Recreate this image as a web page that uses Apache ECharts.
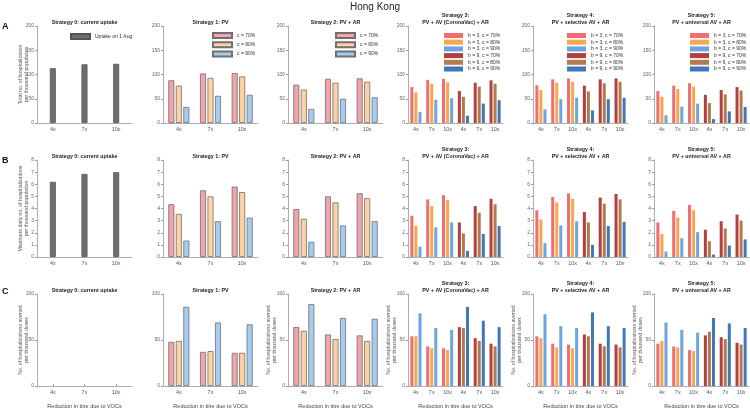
<!DOCTYPE html>
<html>
<head>
<meta charset="utf-8">
<script src="https://cdn.jsdelivr.net/npm/echarts@6/dist/echarts.min.js"></script>
<style>html,body{margin:0;padding:0;background:#fff}#chart{width:750px;height:410px}</style>
</head>
<body>
<div id="chart"></div>
<script>
// ---------- DATA ----------
const cats3 = ['4x', '7x', '10x'];
const cats6 = ['4x', '7x', '10x', '4x', '7x', '10x'];
const strategyTitles = ['Strategy 0: current uptake', 'Strategy 1: PV', 'Strategy 2: PV + AR',
  'Strategy 3:\nPV + AV (CoronaVac) + AR', 'Strategy 4:\nPV + selective AV + AR', 'Strategy 5:\nPV + universal AV + AR'];
const rowLetters = ['A', 'B', 'C'];
const rowYNames = ['Total no. of hospitalization\nper thousand population',
  'Maximum daily no. of hospitalizations\nper thousand population',
  'No. of hospitalizations averted\nper thousand doses'];
const rowYMax = [200, 8, 100];
const rowYInterval = [50, 1, 50];
const xName = 'Reduction in titre due to VOCs';
const s0Name = 'Uptake on 1 Aug';
const cNames = ['c = 70%', 'c = 80%', 'c = 90%'];
const bcNames = ['b = 3, c = 70%', 'b = 3, c = 80%', 'b = 3, c = 90%', 'b = 9, c = 70%', 'b = 9, c = 80%', 'b = 9, c = 90%'];

// Row A: total hospitalizations per thousand population
const A_S0 = [113, 121, 122];
const A_S1_c70 = [88, 102, 103];
const A_S1_c80 = [77, 93, 96];
const A_S1_c90 = [33, 56, 58];
const A_S2_c70 = [79, 91, 92];
const A_S2_c80 = [69, 83, 85];
const A_S2_c90 = [29, 50, 53];
// strategies 3-5: first three = b=3 (4x,7x,10x), last three = b=9
const A_S3_c70 = [74, 89, 91, 66, 83, 88];
const A_S3_c80 = [63, 81, 84, 54, 75, 81];
const A_S3_c90 = [23, 48, 51, 15, 40, 47];
const A_S4_c70 = [78, 90, 92, 77, 90, 92];
const A_S4_c80 = [68, 83, 85, 65, 82, 85];
const A_S4_c90 = [28, 49, 52, 26, 49, 52];
const A_S5_c70 = [66, 77, 82, 58, 68, 74];
const A_S5_c80 = [54, 70, 75, 41, 59, 67];
const A_S5_c90 = [16, 34, 40, 8, 24, 33];

// Row B: maximum daily hospitalizations per thousand population
const B_S0 = [6.2, 6.85, 7.0];
const B_S1_c70 = [4.35, 5.5, 5.8];
const B_S1_c80 = [3.55, 5.0, 5.35];
const B_S1_c90 = [1.35, 2.95, 3.25];
const B_S2_c70 = [3.95, 5.0, 5.25];
const B_S2_c80 = [3.15, 4.5, 4.85];
const B_S2_c90 = [1.25, 2.6, 2.95];
const B_S3_c70 = [3.4, 4.75, 5.1, 2.85, 4.2, 4.8];
const B_S3_c80 = [2.55, 4.2, 4.7, 1.95, 3.65, 4.35];
const B_S3_c90 = [0.85, 2.45, 2.85, 0.5, 1.9, 2.55];
const B_S4_c70 = [3.85, 4.95, 5.25, 3.7, 4.9, 5.2];
const B_S4_c80 = [3.1, 4.5, 4.8, 2.85, 4.4, 4.75];
const B_S4_c90 = [1.15, 2.6, 2.95, 1.0, 2.55, 2.9];
const B_S5_c70 = [2.85, 3.8, 4.3, 2.25, 2.95, 3.5];
const B_S5_c80 = [1.9, 3.25, 3.85, 1.3, 2.35, 3.0];
const B_S5_c90 = [0.45, 1.55, 2.05, 0.2, 0.95, 1.45];

// Row C: hospitalizations averted per thousand doses
const C_S0 = [null, null, null];
const C_S1_c70 = [48, 37, 36];
const C_S1_c80 = [49, 38, 36];
const C_S1_c90 = [86, 69, 67];
const C_S2_c70 = [64, 56, 55];
const C_S2_c80 = [60, 51, 49];
const C_S2_c90 = [89, 74, 73];
const C_S3_c70 = [54, 43, 41, 64, 52, 46];
const C_S3_c80 = [54, 41, 39, 63, 49, 43];
const C_S3_c90 = [79, 63, 61, 86, 71, 64];
const C_S4_c70 = [54, 46, 45, 56, 46, 45];
const C_S4_c80 = [52, 42, 41, 54, 43, 42];
const C_S4_c90 = [78, 65, 63, 80, 65, 63];
const C_S5_c70 = [46, 43, 39, 55, 53, 47];
const C_S5_c80 = [49, 42, 38, 59, 51, 45];
const C_S5_c90 = [69, 61, 58, 74, 68, 63];

const rows = [
  [A_S0, [A_S1_c70, A_S1_c80, A_S1_c90], [A_S2_c70, A_S2_c80, A_S2_c90], [A_S3_c70, A_S3_c80, A_S3_c90], [A_S4_c70, A_S4_c80, A_S4_c90], [A_S5_c70, A_S5_c80, A_S5_c90]],
  [B_S0, [B_S1_c70, B_S1_c80, B_S1_c90], [B_S2_c70, B_S2_c80, B_S2_c90], [B_S3_c70, B_S3_c80, B_S3_c90], [B_S4_c70, B_S4_c80, B_S4_c90], [B_S5_c70, B_S5_c80, B_S5_c90]],
  [C_S0, [C_S1_c70, C_S1_c80, C_S1_c90], [C_S2_c70, C_S2_c80, C_S2_c90], [C_S3_c70, C_S3_c80, C_S3_c90], [C_S4_c70, C_S4_c80, C_S4_c90], [C_S5_c70, C_S5_c80, C_S5_c90]]
];

// ---------- STYLE / LAYOUT ----------
const FONT = 'Liberation Sans, Arial, sans-serif';
const lefts = [37, 163, 288, 408, 533, 654];
const W = 95;
const tops = [26, 160, 294];
const H = [97, 97, 96];
const lightCols = ['#f4a3a8', '#fdd3a5', '#a6cdf0'];
const b3Cols = ['#f26d6d', '#fca64c', '#6aa6e4'];
const b9Cols = ['#b43f3f', '#b47a4b', '#3f77bb'];

const grid = [], xAxis = [], yAxis = [], series = [], title = [], legend = [];

title.push({ text: 'Hong Kong', left: 375, top: 2, textAlign: 'center', padding: 0,
  textStyle: { fontFamily: FONT, fontSize: 10, fontWeight: 'normal', color: '#222' } });

const legendText = { fontFamily: FONT, fontSize: 5, color: '#333' };

for (let r = 0; r < 3; r++) {
  title.push({ text: rowLetters[r], left: 2, top: [22, 156, 287][r], padding: 0,
    textStyle: { fontFamily: FONT, fontSize: 9, fontWeight: 'bold', color: '#111' } });
  for (let s = 0; s < 6; s++) {
    const gi = r * 6 + s;
    grid.push({ left: lefts[s], top: tops[r], width: W, height: H[r], containLabel: false });
    const nLines = strategyTitles[s].split('\n').length;
    title.push({ text: strategyTitles[s], left: lefts[s] + W / 2, top: tops[r] - 6.5 - (nLines - 1) * 7,
      textAlign: 'center', padding: 0,
      textStyle: { fontFamily: FONT, fontSize: 5.3, fontWeight: 'bold', color: '#222', lineHeight: 7 } });
    xAxis.push({ type: 'category', gridIndex: gi, data: s < 3 ? cats3 : cats6,
      axisLine: { lineStyle: { color: '#999', width: 0.8 } },
      axisTick: { show: true, alignWithLabel: true, inside: true, length: 2, lineStyle: { color: '#999' } },
      axisLabel: { fontFamily: FONT, fontSize: 5.5, color: '#555', margin: 3, interval: 0 },
      name: r === 2 ? xName : '', nameLocation: 'middle', nameGap: 17,
      nameTextStyle: { fontFamily: FONT, fontSize: 5.5, color: '#444' } });
    const showYName = s === 0 || (r === 2 && s > 1);
    yAxis.push({ type: 'value', gridIndex: gi, min: 0, max: rowYMax[r], interval: rowYInterval[r],
      axisLine: { show: true, lineStyle: { color: '#999', width: 0.8 } },
      axisTick: { show: true, length: 2, lineStyle: { color: '#999' } },
      splitLine: { show: false },
      axisLabel: { fontFamily: FONT, fontSize: 5, color: '#666', margin: 3 },
      name: showYName ? rowYNames[r] : '', nameLocation: 'middle', nameRotate: 90,
      nameGap: (r === 2 && s > 0) ? 10 : 7, nameMoveOverlap: false,
      nameTextStyle: { fontFamily: FONT, fontSize: 5.2, color: '#555', lineHeight: 6 } });

    const d = rows[r][s];
    if (s === 0) {
      series.push({ type: 'bar', name: s0Name, xAxisIndex: gi, yAxisIndex: gi, data: d, barWidth: 6,
        itemStyle: { color: '#6e6e6e', borderColor: '#555', borderWidth: 0.8 } });
      if (r === 0) legend.push({ data: [s0Name], left: 70, top: 33, orient: 'vertical', padding: 0,
        icon: 'rect', itemWidth: 19, itemHeight: 5, selectedMode: false, textStyle: legendText });
    } else if (s < 3) {
      for (let k = 0; k < 3; k++) {
        series.push({ type: 'bar', name: cNames[k], xAxisIndex: gi, yAxisIndex: gi, data: d[k],
          barWidth: 6, barGap: '25%',
          itemStyle: { color: lightCols[k], borderColor: '#6f6f6f', borderWidth: 0.8 } });
      }
      if (r === 0) legend.push({ data: cNames, left: s === 1 ? 212 : 335, top: 32, orient: 'vertical',
        padding: 0, icon: 'rect', itemWidth: 19, itemHeight: 5, itemGap: 2.3, selectedMode: false,
        textStyle: legendText });
    } else {
      for (let b = 0; b < 2; b++) {
        for (let k = 0; k < 3; k++) {
          const vals = d[k].map((v, i) => ((i < 3) === (b === 0) ? v : null));
          series.push({ type: 'bar', name: bcNames[b * 3 + k], xAxisIndex: gi, yAxisIndex: gi,
            data: vals, stack: 'g' + gi + 'c' + k, barWidth: 3, barGap: '35%',
            itemStyle: { color: (b === 0 ? b3Cols : b9Cols)[k] } });
        }
      }
      if (r === 0) legend.push({ data: bcNames, left: [444, 567, 690][s - 3], top: 33, orient: 'vertical',
        padding: 0, icon: 'rect', itemWidth: 19, itemHeight: 5, itemGap: 1.7, selectedMode: false,
        textStyle: legendText });
    }
  }
}

const chart = echarts.init(document.getElementById('chart'), null, { renderer: 'canvas' });
chart.setOption({ animation: false, backgroundColor: '#fff', title, grid, xAxis, yAxis, series, legend });
</script>
</body>
</html>
